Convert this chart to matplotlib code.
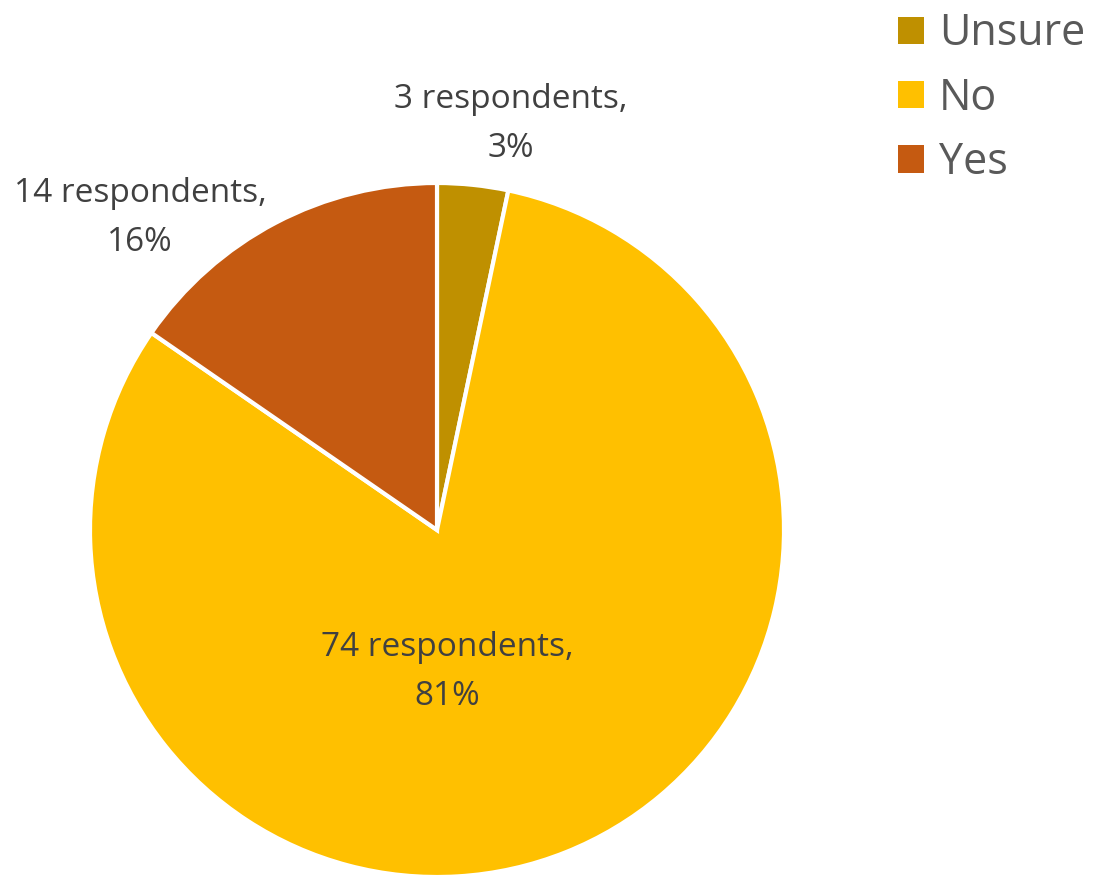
import matplotlib
matplotlib.use("Agg")
import matplotlib.pyplot as plt
from matplotlib.patches import Patch

categories = ["Unsure", "No", "Yes"]
counts = [3, 74, 14]
percent_labels = ["3%", "81%", "16%"]
colors = ["#BF9000", "#FFC000", "#C55A11"]
# label anchor positions (data units, pie radius = 1)
label_pos = [(0.213, 1.171), (0.029, -0.409), (-0.856, 0.9)]

plt.rcParams['font.family'] = ['Open Sans', 'DejaVu Sans']

W, H = 1102, 877
fig = plt.figure(figsize=(W / 100, H / 100), dpi=100)
cx, cy, r = 437, 530, 347
ax = fig.add_axes([(cx - r) / W, (H - cy - r) / H, 2 * r / W, 2 * r / H])
wedges, _ = ax.pie(counts, colors=colors, startangle=90, counterclock=False,
                   radius=1, wedgeprops=dict(edgecolor="white", linewidth=3))
ax.set_xlim(-1, 1)
ax.set_ylim(-1, 1)
ax.set_aspect("equal")
ax.axis("off")

for n, p, (x, y) in zip(counts, percent_labels, label_pos):
    ax.text(x, y, f"{n} respondents,\n{p}", ha="center", va="center",
            fontsize=24, color="#404040", linespacing=1.65, clip_on=False)

handles = [Patch(facecolor=c, edgecolor="none") for c in colors]
fig.legend(handles, categories, loc="upper left", bbox_to_anchor=(881 / W, 1.006),
           frameon=False, fontsize=31, labelcolor="#595959",
           handlelength=0.6, handleheight=0.6, handletextpad=0.35,
           labelspacing=0.46, borderaxespad=0.0)

fig.savefig("out.png", dpi=100)
